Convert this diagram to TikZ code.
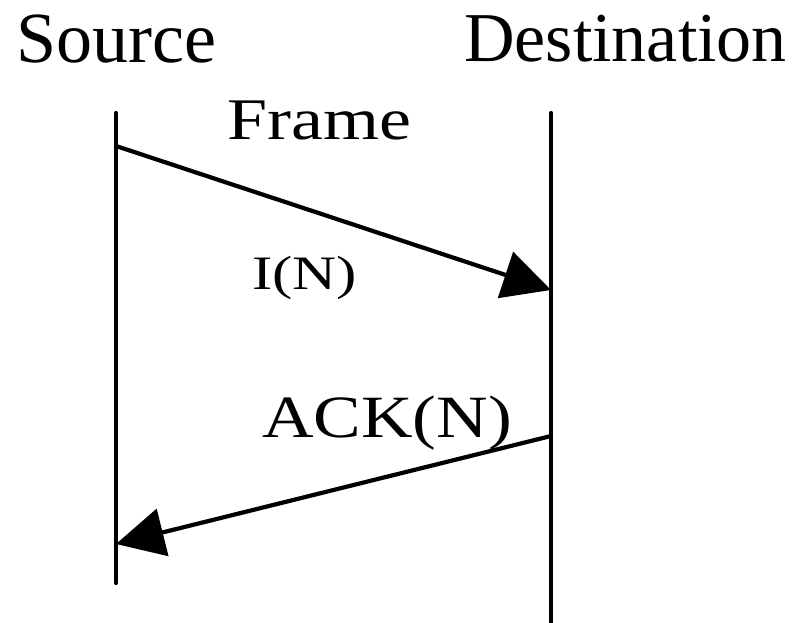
\documentclass[tikz,border=0pt]{standalone}
\usepackage{fontspec}
\setmainfont{Liberation Serif}
\usetikzlibrary{arrows.meta}
\begin{document}
\begin{tikzpicture}[x=1pt,y=1pt,
  lifeline/.style={line width=4.2pt, line cap=round},
  msg/.style={line width=4.2pt, -{Triangle[length=48pt,width=48pt]}},
  lbl/.style={inner sep=0pt, anchor=base west}]
\useasboundingbox (0,0) rectangle (792,623);
% lifelines
\coordinate (s1) at (116,510);
\coordinate (s2) at (116,40);
\coordinate (d1) at (551,510);
\coordinate (d2) at (551,0);
\draw[lifeline] (s1) -- (s2);
\draw[lifeline] (d1) -- (d2);
% message points
\coordinate (fs) at (116,477);
\coordinate (fe) at (551,333);
\coordinate (as) at (551,187);
\coordinate (ae) at (116,79);
\draw[msg] (fs) -- (fe);
\draw[msg] (as) -- (ae);
% labels
\node[lbl, font=\fontsize{72}{72}\selectfont] (src) at (16,560) {Source};
\node[lbl, font=\fontsize{70}{70}\selectfont] (dst) at (464,561) {Destination};
\node[lbl, font=\fontsize{59}{59}\selectfont, xscale=1.22] (frame) at (227,483) {Frame};
\node[lbl, font=\fontsize{48}{48}\selectfont, xscale=1.27] (in) at (252,333) {I(N)};
\node[lbl, font=\fontsize{60}{60}\selectfont, xscale=1.19] (ack) at (262,185) {ACK(N)};
\end{tikzpicture}
\end{document}
